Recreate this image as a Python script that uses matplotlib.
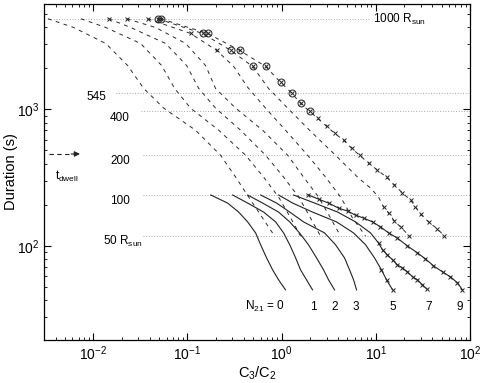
import matplotlib
matplotlib.use('Agg')
import matplotlib.pyplot as plt
from matplotlib.ticker import LogLocator, NullFormatter

plt.rcParams['font.family'] = ['Liberation Sans', 'DejaVu Sans']
plt.rcParams['mathtext.fontset'] = 'custom'
plt.rcParams['mathtext.rm'] = 'Liberation Sans'
plt.rcParams['mathtext.it'] = 'Liberation Sans:italic'
plt.rcParams['mathtext.bf'] = 'Liberation Sans:bold'

# ---------------- data ----------------
n21_values = ['0', '1', '2', '3', '5', '7', '9']

# reference dwell-time levels (1000, 545, 400, 200, 100, 50 R_sun)
level_names = ['1000', '545', '400', '200', '100', '50']
level_durations = [4600, 1315, 967, 461, 236, 118]
level_xstart = [0.00334, 0.0175, 0.0323, 0.034, 0.034, 0.034]
level_xend = [8.4, 100, 100, 100, 100, 100]

# dashed curves (t_dwell), N21 = 0,1,2,3 share the same duration levels
dash_levels = [4600, 3970, 3030, 2090, 1420, 1020, 703, 461, 319, 228, 160, 118]
dash_n0_x = [0.0033, 0.0062, 0.0136, 0.0232, 0.0344, 0.056, 0.122, 0.225, 0.325, 0.447, 0.629, 0.843]
dash_n1_x = [0.0074, 0.0136, 0.0319, 0.0533, 0.0732, 0.108, 0.215, 0.415, 0.644, 0.929, 1.25, 1.59]
dash_n2_x = [0.0146, 0.025, 0.0588, 0.0982, 0.132, 0.199, 0.367, 0.676, 1.05, 1.52, 2.03, 2.59]
dash_n3_x = [0.0227, 0.046, 0.0958, 0.156, 0.199, 0.325, 0.629, 1.16, 1.71, 2.47, 3.31, 4.23]
dash_n5_x = [0.0379, 0.108, 0.204, 0.31, 0.436, 0.676, 1.10, 1.89, 2.93, 4.23, 5.67, 7.79]
dash_n5_y = [4600, 3590, 2700, 2060, 1450, 1020, 703, 461, 319, 228, 160, 118]
dash_n7_x = [0.0483, 0.145, 0.288, 0.492, 0.728, 1.16, 1.98, 3.74, 6.40, 8.80, 10.7,
             12.1, 13.7, 15.8, 18.3, 22.8]
dash_n7_y = [4600, 3590, 2700, 2060, 1420, 1020, 703, 461, 319, 265, 228,
             193, 174, 152, 138, 118]
dash_n9_x = [0.052, 0.164, 0.358, 0.676, 0.976, 1.28, 1.59, 1.98, 2.41, 3.00, 3.65, 4.55,
             5.53, 6.72, 8.38, 10.4, 13.0, 15.8, 19.2, 23.4, 26.4, 29.9, 36.3, 45.2, 53.6]
dash_n9_y = [4600, 3590, 2700, 2060, 1575, 1315, 1106, 967, 860, 751, 668, 594,
             519, 461, 404, 359, 319, 279, 244, 217, 193, 171, 150, 133, 118]

# solid curves (duration), N21 = 0,1,2,3,5 share the same duration levels
solid_levels = [236, 206, 177, 150, 124.5, 102, 81.7, 66.8, 56.5, 47.7]
solid_n0_x = [0.177, 0.267, 0.35, 0.436, 0.53, 0.599, 0.693, 0.803, 0.929, 1.10]
solid_n1_x = [0.302, 0.436, 0.644, 0.864, 1.05, 1.22, 1.41, 1.59, 1.84, 2.13]
solid_n2_x = [0.436, 0.629, 0.929, 1.22, 1.55, 1.93, 2.35, 2.79, 3.15, 3.65]
solid_n3_x = [0.599, 0.885, 1.22, 1.71, 2.86, 3.74, 4.66, 5.27, 5.81, 6.25]
solid_n5_x = [0.929, 1.31, 2.13, 3.83, 5.81, 7.79, 9.70, 11.5, 13.0, 15.1]
solid_n7_x = [1.34, 2.24, 3.93, 6.10, 8.80, 10.7, 11.8, 13.3, 15.1, 17.0, 19.2, 21.7,
              24.6, 27.7, 31.3, 34.6]
solid_n7_y = [236, 206, 177, 150, 124.5, 105, 93.5, 86.0, 79.0, 72.6, 69.1, 64.6,
              59.4, 56.5, 51.9, 48.5]
solid_n9_x = [1.93, 2.47, 3.15, 4.03, 5.02, 6.10, 7.41, 9.24, 11.2, 13.7, 17.0, 21.7,
              27.7, 33.7, 41.0, 51.1, 62.1, 73.7, 83.2]
solid_n9_y = [236, 220, 206, 189, 180, 168, 160, 150, 138, 124.5, 114, 100,
              88.9, 80.4, 71.5, 64.6, 59.4, 53.7, 47.7]

# ---------------- figure ----------------
fig = plt.figure(figsize=(4.85, 3.83), dpi=100)
ax = fig.add_axes([0.0907, 0.1123, 0.8783, 0.8773])
ax.set_xscale('log')
ax.set_yscale('log')
ax.set_xlim(0.003, 100)
ax.set_ylim(20.5, 5900)

dotcol = '#8a8a8a'
for yv, x0, x1 in zip(level_durations, level_xstart, level_xend):
    ax.plot([x0, x1], [yv, yv], linestyle=(0, (1, 2.2)), color=dotcol, lw=0.6)

dash_style = dict(color='#2a2a2a', lw=0.7, linestyle=(0, (4, 4.5)))
ax.plot(dash_n0_x, dash_levels, **dash_style)
ax.plot(dash_n1_x, dash_levels, **dash_style)
ax.plot(dash_n2_x, dash_levels, **dash_style)
ax.plot(dash_n3_x, dash_levels, **dash_style)
ax.plot(dash_n5_x, dash_n5_y, **dash_style)
ax.plot(dash_n7_x, dash_n7_y, **dash_style)
ax.plot(dash_n9_x, dash_n9_y, **dash_style)

cross = dict(linestyle='none', marker='x', ms=3.3, mew=0.7, color='#222222')
circ = dict(linestyle='none', marker='o', ms=5, mew=0.7, mfc='none', mec='#222222')
# cross markers at start of some dashed curves
ax.plot([dash_n2_x[0], dash_n3_x[0]], [dash_levels[0], dash_levels[0]], **cross)
ax.plot(dash_n5_x[:3], dash_n5_y[:3], **cross)
# circled crosses
ax.plot(dash_n7_x[:4], dash_n7_y[:4], **circ)
ax.plot(dash_n7_x[:4], dash_n7_y[:4], **cross)
ax.plot(dash_n9_x[:8], dash_n9_y[:8], **circ)
ax.plot(dash_n9_x[:8], dash_n9_y[:8], **cross)
ax.plot(dash_n9_x[8:], dash_n9_y[8:], **cross)
ax.plot(dash_n7_x[11:], dash_n7_y[11:], **cross)

solid_style = dict(color='#222222', lw=0.8)
ax.plot(solid_n0_x, solid_levels, **solid_style)
ax.plot(solid_n1_x, solid_levels, **solid_style)
ax.plot(solid_n2_x, solid_levels, **solid_style)
ax.plot(solid_n3_x, solid_levels, **solid_style)
ax.plot(solid_n5_x, solid_levels, **solid_style)
ax.plot(solid_n5_x[7:], solid_levels[7:], **cross)
ax.plot(solid_n7_x, solid_n7_y, **solid_style)
ax.plot(solid_n7_x[5:], solid_n7_y[5:], **cross)
ax.plot(solid_n9_x, solid_n9_y, **solid_style)
ax.plot(solid_n9_x, solid_n9_y, **cross)

# ---------------- text ----------------
fs = 8.5
tr = ax.transAxes
ax.text(0.7723, 0.9435, r'1000 R$_{\rm sun}$', transform=tr, fontsize=fs, va='baseline')
ax.text(0.0986, 0.714, level_names[1], transform=tr, fontsize=fs, va='baseline')
ax.text(0.1549, 0.652, level_names[2], transform=tr, fontsize=fs, va='baseline')
ax.text(0.1549, 0.524, level_names[3], transform=tr, fontsize=fs, va='baseline')
ax.text(0.1549, 0.405, level_names[4], transform=tr, fontsize=fs, va='baseline')
ax.text(0.1385, 0.2827, r'50 R$_{\rm sun}$', transform=tr, fontsize=fs, va='baseline')

ax.text(0.0258, 0.476, r't$_{\rm dwell}$', transform=tr, fontsize=fs, va='baseline')
ax.plot([0.0117, 0.066], [0.5536, 0.5536], transform=tr, color='#222222', lw=0.8,
        linestyle=(0, (4, 3)))
ax.annotate('', xy=(0.0845, 0.5536), xytext=(0.064, 0.5536), xycoords=tr, textcoords=tr,
            arrowprops=dict(arrowstyle='-|>', color='#222222', lw=0.8,
                            mutation_scale=8, shrinkA=0, shrinkB=0))

lab_x = [0.5657, 0.6315, 0.6831, 0.7324, 0.8192, 0.9038, 0.9765]
ax.text(lab_x[0], 0.0893, r'N$_{21}$ = ' + n21_values[0], transform=tr, fontsize=fs,
        va='baseline', ha='right')
for xx, lab in zip(lab_x[1:], n21_values[1:]):
    ax.text(xx, 0.0893, lab, transform=tr, fontsize=fs, va='baseline', ha='center')

# ---------------- axes styling ----------------
ax.set_xlabel(r'C$_3$/C$_2$', fontsize=10.5, labelpad=0.5)
ax.set_ylabel('Duration (s)', fontsize=10.5)
ax.yaxis.set_label_coords(-0.062, 0.5)
ax.xaxis.set_major_locator(LogLocator(base=10, numticks=20))
ax.xaxis.set_minor_locator(LogLocator(base=10, subs=range(2, 10), numticks=20))
ax.yaxis.set_major_locator(LogLocator(base=10, numticks=20))
ax.yaxis.set_minor_locator(LogLocator(base=10, subs=range(2, 10), numticks=20))
ax.xaxis.set_minor_formatter(NullFormatter())
ax.yaxis.set_minor_formatter(NullFormatter())
ax.tick_params(which='both', direction='in', top=True, right=True, labelsize=10)
ax.tick_params(which='major', length=5, width=0.8)
ax.tick_params(which='minor', length=2.5, width=0.6)
for sp in ax.spines.values():
    sp.set_linewidth(0.9)

fig.savefig('out.png', dpi=100)
